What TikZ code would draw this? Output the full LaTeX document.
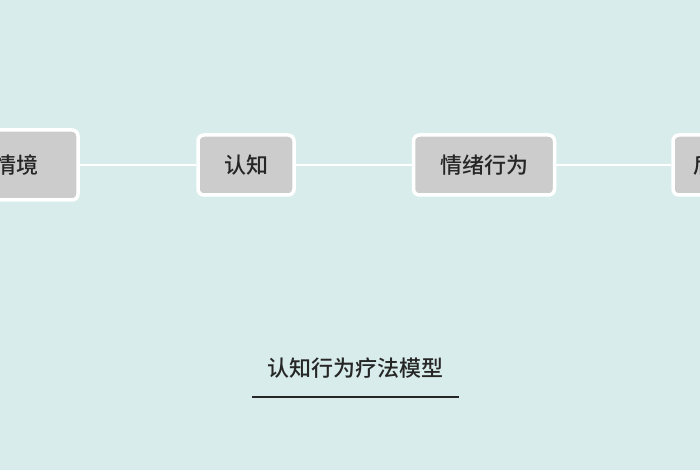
\documentclass[tikz,border=0pt]{standalone}
\usepackage{fontspec}
\newfontfamily\cjk{Noto Sans CJK SC Medium}
\begin{document}
\begin{tikzpicture}[x=1pt,y=-1pt,
  txt/.style={font=\cjk\fontsize{22}{22}\selectfont,text=black!85},
  box/.style={draw=white,line width=3.5pt,fill=black!20,rounded corners=6pt,inner sep=0pt,txt},
  link/.style={draw=white,line width=2pt}]
\useasboundingbox (0,0) rectangle (700,470);
\fill[fill={rgb,255:red,216;green,237;blue,235}] (0,0) rectangle (700,470);
\clip (0,0) rectangle (700,470);
\node[box,minimum width=100pt,minimum height=70pt] (a) at (28,165) {};
\node[txt,anchor=east] (ta) at (42,165) {情境};
\node[box,minimum width=96pt,minimum height=60pt] (b) at (246,165) {认知};
\node[box,minimum width=141pt,minimum height=60pt] (c) at (484,165) {情绪行为};
\node[box,minimum width=100pt,minimum height=60pt] (d) at (723,165) {};
\node[txt,anchor=west] (td) at (690,165) {后果};
\draw[link] (a.east) -- (b.west);
\draw[link] (b.east) -- (c.west);
\draw[link] (c.east) -- (d.west);
\node[txt] (t) at (355,368) {认知行为疗法模型};
\draw[line width=1.5pt,black!85] (252,397) -- (459,397);
\end{tikzpicture}
\end{document}
